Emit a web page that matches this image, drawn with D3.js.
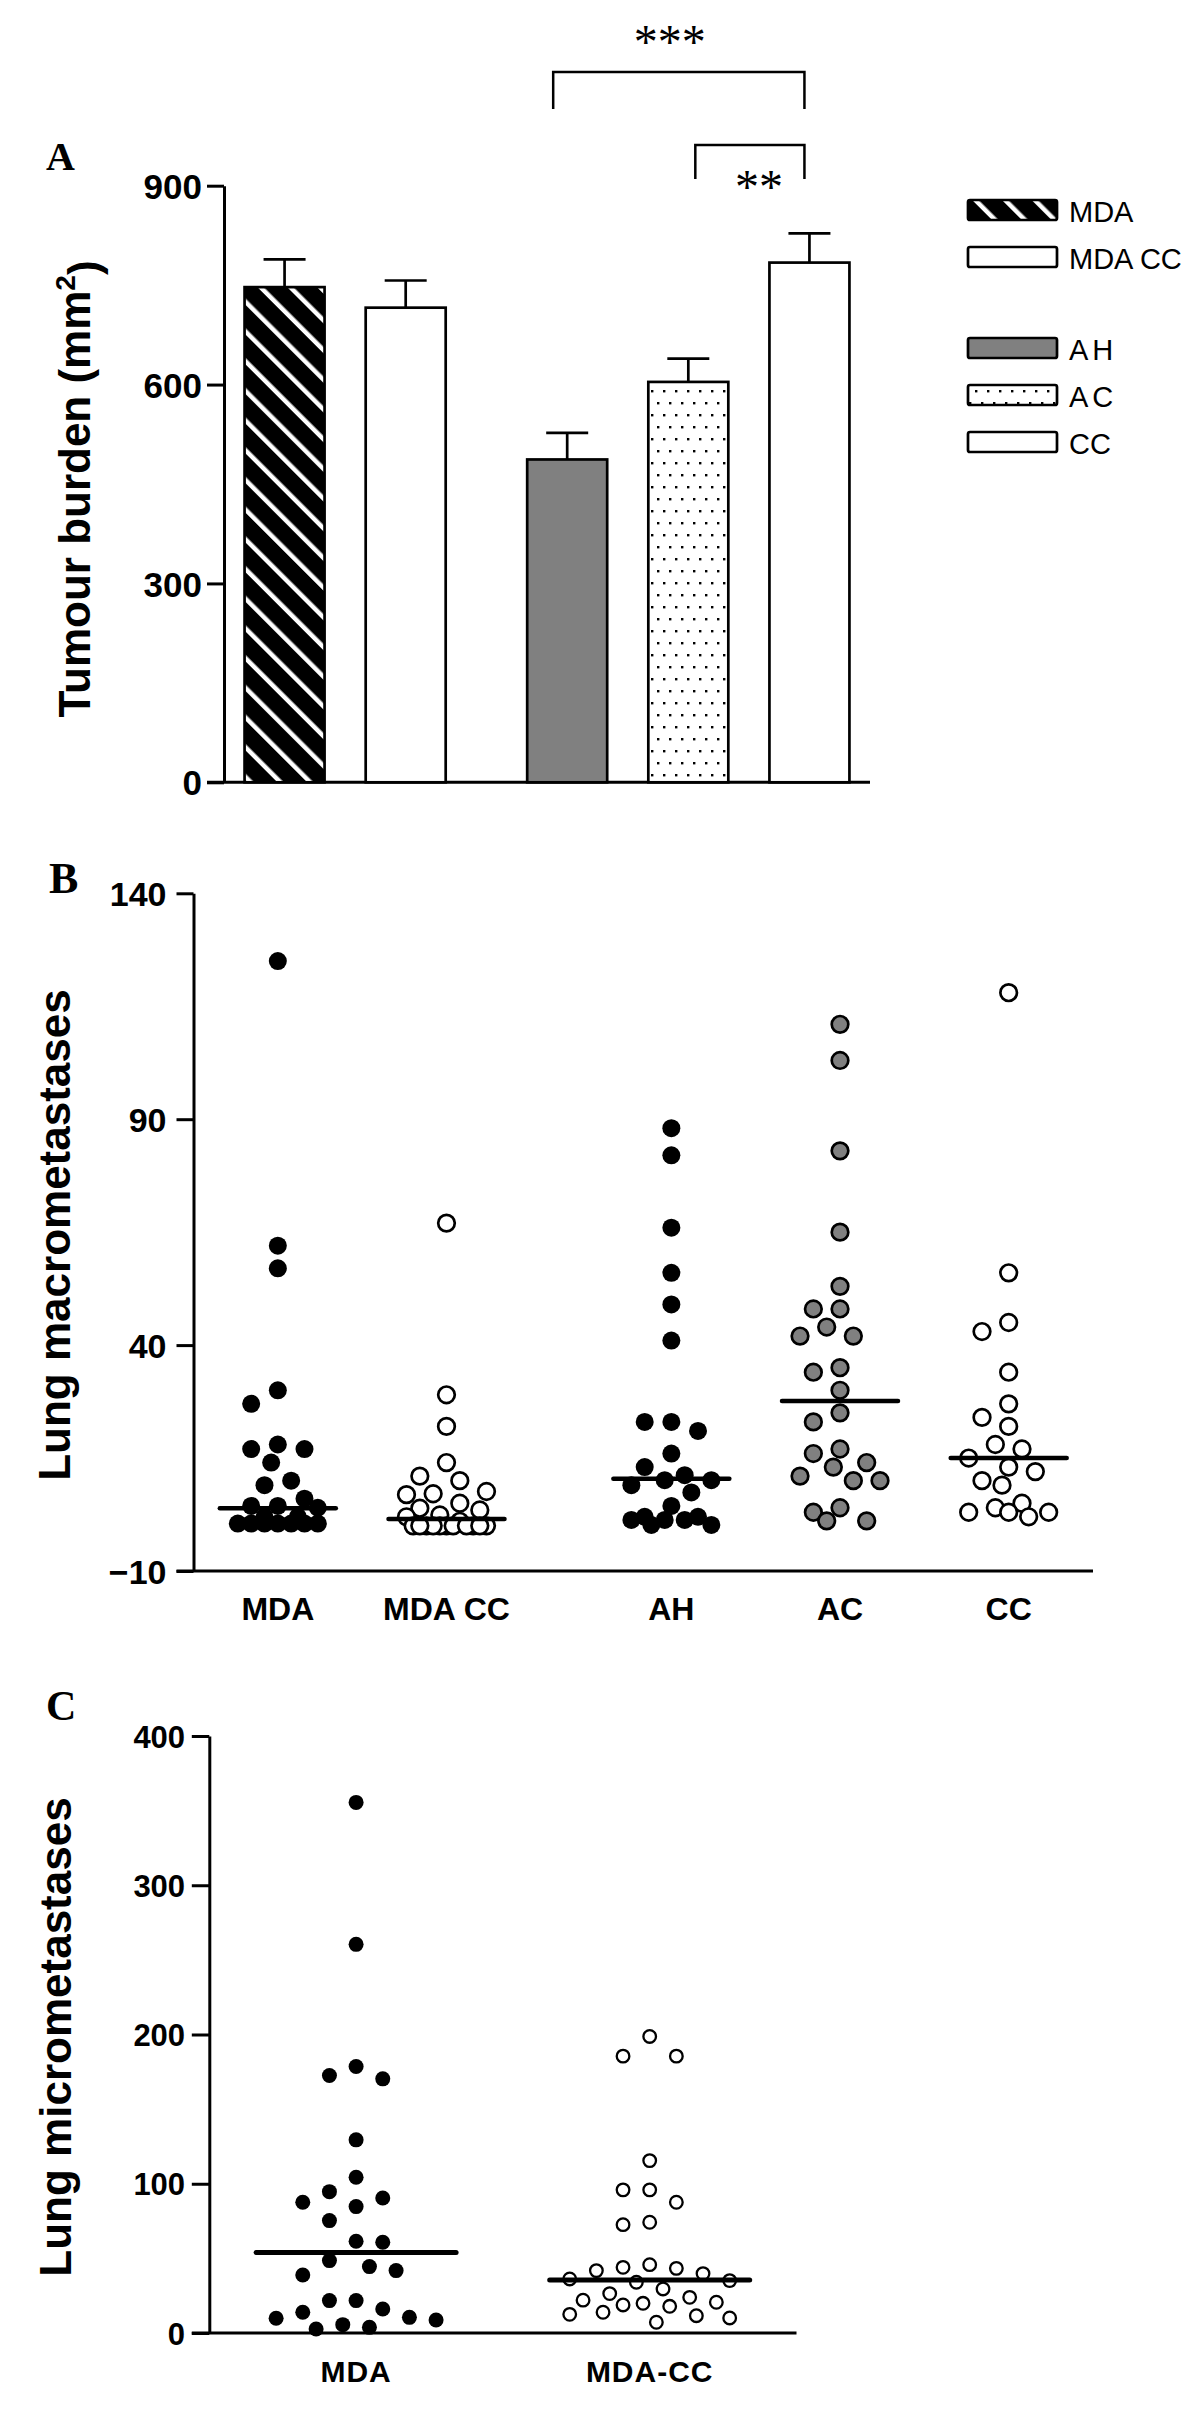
<!DOCTYPE html>
<html>
<head>
<meta charset="utf-8">
<script src="https://cdn.jsdelivr.net/npm/d3@7"></script>
<style>
  html, body { margin: 0; padding: 0; background: #fff; }
  svg { display: block; }
</style>
</head>
<body>
<script>
// ---------------- DATA ----------------
// Panel A: tumour burden (mean + SEM)
const barCategories = ["MDA", "MDA CC", "AH", "AC", "CC"];
const barMeans = [747, 716, 487, 604, 784];
const barSEM = [42, 41, 40, 35, 44];
const barTicks = [0, 300, 600, 900];
const comparisonFrom = ["AH", "AC"];
const comparisonTo = ["CC", "CC"];
const comparisonLabels = ["***", "**"];
const legendLabels = ["MDA", "MDA CC", "AH", "AC", "CC"];

// Panel B: lung macrometastases
const macroCategories = ["MDA", "MDA CC", "AH", "AC", "CC"];
const macroMDA = [125, 62, 57, 30, 27, 18, 17, 17, 14, 10, 9, 6, 4.4, 4.4, 4, 2, 2, 0.5, 0.5, 0.5, 0.5, 0.5, 0.5, 0.5];
const macroMDACC = [67, 29, 22, 14, 11, 10, 7.6, 7.1, 6.9, 5, 3.9, 3.5, 2.4, 2, 1, 0, 0, 0, 0, 0, 0, 0, 0, 0, 0, 0];
const macroAH = [88, 82, 66, 56, 49, 41, 23, 23, 21, 16, 13, 11.2, 10.1, 10.1, 9, 7.4, 4.4, 2, 2, 1.3, 1.3, 1.3, 0.2, 0.2];
const macroAC = [111, 103, 83, 65, 53, 48, 48, 44, 42, 42, 35, 34, 30, 25, 23, 17, 16, 14, 13, 11, 10, 10, 4, 3, 1.1, 1.1];
const macroCC = [118, 56, 45, 43, 34, 27, 24, 22, 18, 17, 15, 13, 12, 10, 9, 5, 4, 3, 3, 3, 2];
const macroMedians = [3.9, 1.5, 10.4, 27.6, 15.0];
const macroTicks = [-10, 40, 90, 140];

// Panel C: lung micrometastases
const microCategories = ["MDA", "MDA-CC"];
const microMDA = [355.5, 260.4, 178.6, 172.5, 170.3, 129.4, 104.4, 94.7, 90.5, 87.6, 84.7, 75.3, 61.5, 60.8, 48.5, 44.5, 41.8, 38.9, 21.7, 21.7, 16.1, 13.9, 10.5, 9.9, 8.7, 5.6, 3.8, 2.7];
const microMDACC = [198.7, 185.5, 185.5, 115.5, 95.9, 95.9, 87.6, 74.2, 72.6, 45.8, 44.0, 43.3, 41.8, 39.8, 36.2, 35.1, 34.0, 29.5, 26.4, 23.9, 22.0, 20.6, 19.9, 18.8, 17.9, 13.9, 12.5, 11.6, 10.1, 7.2];
const microMedians = [54.0, 35.5];
const microTicks = [0, 100, 200, 300, 400];

// ---------------- HELPERS ----------------
const SANS = "'Liberation Sans', Arial, sans-serif";
const SERIF = "'Liberation Serif', 'Times New Roman', serif";
const slot = i => i + (i >= 2 ? 1 / 3 : 0); // group gap between first two and last three

function swarm(vals, y, h, dmin, maxK) {
  const order = d3.range(vals.length).sort((a, b) => vals[b] - vals[a] || a - b);
  const first = [0];
  for (let k = 1; k <= maxK; k++) first.push(-k, k);
  const fine = [0];
  for (let k = 1; k <= 2 * maxK; k++) fine.push(-k, k);
  const placed = [];
  const out = new Array(vals.length);
  for (const i of order) {
    const yy = y(vals[i]);
    let chosen = null;
    for (const k of first) {
      const dx = k * h;
      if (placed.every(p => Math.hypot(p.dx - dx, p.y - yy) >= dmin)) { chosen = dx; break; }
    }
    if (chosen === null) {
      let best = -1;
      for (const k of fine) {
        const dx = k * h / 2;
        const m = d3.min(placed, p => Math.hypot(p.dx - dx, p.y - yy));
        if (m > best + 0.01) { best = m; chosen = dx; }
      }
    }
    placed.push({ dx: chosen, y: yy });
    out[i] = chosen;
  }
  return out;
}

function styleAxis(g, fontSize) {
  g.select(".domain").attr("stroke", "#000").attr("stroke-width", 3);
  g.selectAll(".tick line").attr("stroke", "#000").attr("stroke-width", 3);
  g.selectAll(".tick text")
    .attr("fill", "#000")
    .attr("dy", "0.36em")
    .style("font-family", SANS)
    .style("font-weight", "bold")
    .style("font-size", fontSize + "px");
}

function yTitle(svg, text, x, y, sup) {
  const t = svg.append("text")
    .attr("transform", `translate(${x},${y}) rotate(-90)`)
    .attr("text-anchor", "middle")
    .style("font-family", SANS).style("font-weight", "bold").style("font-size", "44px")
    .attr("fill", "#000");
  t.append("tspan").text(text);
  if (sup) {
    t.append("tspan").attr("dy", "-0.55em").style("font-size", "28px").text(sup);
    t.append("tspan").attr("dy", "0.55em").text(")");
  }
}

function panelLetter(svg, letter, x, y, size) {
  svg.append("text").attr("x", x).attr("y", y).text(letter)
    .style("font-family", SERIF).style("font-weight", "bold").style("font-size", size + "px")
    .attr("fill", "#000");
}

// ---------------- SVG ----------------
const svg = d3.select("body").append("svg").attr("width", 1200).attr("height", 2414);
svg.append("rect").attr("width", 1200).attr("height", 2414).attr("fill", "#fff");

const defs = svg.append("defs");
const hatch = defs.append("pattern").attr("id", "hatch").attr("patternUnits", "userSpaceOnUse")
  .attr("width", 21).attr("height", 21).attr("patternTransform", "rotate(-45)");
hatch.append("rect").attr("width", 21).attr("height", 21).attr("fill", "#000");
hatch.append("rect").attr("x", 0).attr("width", 4.5).attr("height", 21).attr("fill", "#fff");
const dots = defs.append("pattern").attr("id", "dots").attr("patternUnits", "userSpaceOnUse")
  .attr("width", 12).attr("height", 24);
dots.append("rect").attr("width", 12).attr("height", 24).attr("fill", "#fff");
dots.append("rect").attr("x", 3).attr("y", 6).attr("width", 2.4).attr("height", 2.4).attr("fill", "#000");
dots.append("rect").attr("x", 9).attr("y", 18).attr("width", 2.4).attr("height", 2.4).attr("fill", "#000");

const barFills = ["url(#hatch)", "#fff", "#808080", "url(#dots)", "#fff"];

// ================= PANEL A =================
const yA = d3.scaleLinear().domain([0, 900]).range([782.3, 185.7]);
const xA = d3.scaleLinear().domain([-0.5, slot(4) + 0.5]).range([224, 870]);
const bw = 80;

const gA = svg.append("g");
gA.append("g").attr("transform", "translate(224,0)")
  .call(d3.axisLeft(yA).tickValues(barTicks).tickSize(17).tickSizeOuter(0).tickPadding(5).tickFormat(d3.format("d")))
  .call(g => styleAxis(g, 35));
gA.append("line").attr("x1", 207).attr("x2", 870).attr("y1", yA(0)).attr("y2", yA(0))
  .attr("stroke", "#000").attr("stroke-width", 3);

barCategories.forEach((c, i) => {
  const cx = xA(slot(i));
  gA.append("line").attr("x1", cx).attr("x2", cx).attr("y1", yA(barMeans[i])).attr("y2", yA(barMeans[i] + barSEM[i]))
    .attr("stroke", "#000").attr("stroke-width", 2.7);
  gA.append("line").attr("x1", cx - 21).attr("x2", cx + 21)
    .attr("y1", yA(barMeans[i] + barSEM[i])).attr("y2", yA(barMeans[i] + barSEM[i]))
    .attr("stroke", "#000").attr("stroke-width", 2.7);
  gA.append("rect").attr("x", cx - bw / 2).attr("y", yA(barMeans[i]))
    .attr("width", bw).attr("height", yA(0) - yA(barMeans[i]))
    .attr("fill", barFills[i]).attr("stroke", "#000").attr("stroke-width", 2.7);
});

// significance brackets
comparisonFrom.forEach((f, j) => {
  const x1 = xA(slot(barCategories.indexOf(f))) + (j === 0 ? -14 : 7);
  const x2 = xA(slot(barCategories.indexOf(comparisonTo[j]))) - 5;
  const top = j === 0 ? 72 : 145;
  const drop = j === 0 ? 37 : 34;
  gA.append("path").attr("d", `M${x1},${top + drop}V${top}H${x2}V${top + drop}`)
    .attr("fill", "none").attr("stroke", "#000").attr("stroke-width", 2.5);
  const lx = j === 0 ? (x1 + x2) / 2 - 9 : (x1 + x2) / 2 + 9;
  const ly = j === 0 ? 58 : 203;
  gA.append("text").attr("x", lx).attr("y", ly).attr("text-anchor", "middle")
    .style("font-family", SERIF).style("font-size", "48px").attr("fill", "#000")
    .text(comparisonLabels[j]);
});

// legend
legendLabels.forEach((l, i) => {
  const top = 200 + i * 47 + (i >= 2 ? 44 : 0);
  gA.append("rect").attr("x", 968).attr("y", top).attr("width", 89).attr("height", 20).attr("rx", 2)
    .attr("fill", barFills[i]).attr("stroke", "#000").attr("stroke-width", 2.7);
  gA.append("text").attr("x", 1069).attr("y", top + 21.5).text(l)
    .style("font-family", SANS).style("font-size", "29px")
    .style("letter-spacing", l.length === 2 && i >= 2 && l !== "CC" ? "4px" : "0px")
    .attr("fill", "#000");
});

yTitle(svg, "Tumour burden (mm", 90, 489, "2");
panelLetter(svg, "A", 46, 170, 40);

// ================= PANEL B =================
const yB = d3.scaleLinear().domain([-10, 140]).range([1571, 893.3]);
const xB = d3.scaleLinear().domain([-0.5, slot(4) + 0.5]).range([193.5, 1093]);
const gB = svg.append("g");
gB.append("g").attr("transform", "translate(193.5,0)")
  .call(d3.axisLeft(yB).tickValues(macroTicks).tickSize(17).tickSizeOuter(0).tickPadding(10).tickFormat(d3.format("d")))
  .call(g => styleAxis(g, 34));
gB.append("line").attr("x1", 176.5).attr("x2", 1093).attr("y1", yB(-10)).attr("y2", yB(-10))
  .attr("stroke", "#000").attr("stroke-width", 3);

const macroSeries = [macroMDA, macroMDACC, macroAH, macroAC, macroCC];
const macroFill = ["#000", "#fff", "#000", "#808080", "#fff"];
const macroStroked = [false, true, false, true, true];
macroSeries.forEach((vals, i) => {
  const cx = xB(slot(i));
  const offs = swarm(vals, yB, 13.33, 22, 3);
  gB.append("g").selectAll("circle").data(vals).join("circle")
    .attr("cx", (d, k) => cx + offs[k]).attr("cy", d => yB(d))
    .attr("r", macroStroked[i] ? 8.3 : 9)
    .attr("fill", macroFill[i])
    .attr("stroke", macroStroked[i] ? "#000" : "none")
    .attr("stroke-width", 2.7);
  gB.append("line").attr("x1", cx - 58).attr("x2", cx + 58)
    .attr("y1", yB(macroMedians[i])).attr("y2", yB(macroMedians[i]))
    .attr("stroke", "#000").attr("stroke-width", 4.5).attr("stroke-linecap", "round");
  gB.append("text").attr("x", cx).attr("y", 1620).attr("text-anchor", "middle")
    .style("font-family", SANS).style("font-weight", "bold").style("font-size", "32px")
    .attr("fill", "#000").text(macroCategories[i]);
});

yTitle(svg, "Lung macrometastases", 70, 1235);
panelLetter(svg, "B", 49, 893, 44);

// ================= PANEL C =================
const yC = d3.scaleLinear().domain([0, 400]).range([2333, 1736]);
const xC = d3.scaleLinear().domain([-0.5, 1.5]).range([209.3, 796.5]);
const gC = svg.append("g");
gC.append("g").attr("transform", "translate(209.3,0)")
  .call(d3.axisLeft(yC).tickValues(microTicks).tickSize(17.5).tickSizeOuter(0).tickPadding(6.7).tickFormat(d3.format("d")))
  .call(g => styleAxis(g, 31));
gC.append("line").attr("x1", 191.8).attr("x2", 796.5).attr("y1", yC(0)).attr("y2", yC(0))
  .attr("stroke", "#000").attr("stroke-width", 3);

const microSeries = [microMDA, microMDACC];
microSeries.forEach((vals, i) => {
  const cx = xC(i);
  const offs = swarm(vals, yC, 13.33, 26, 6);
  gC.append("g").selectAll("circle").data(vals).join("circle")
    .attr("cx", (d, k) => cx + offs[k]).attr("cy", d => yC(d))
    .attr("r", i === 0 ? 7.5 : 6.3)
    .attr("fill", i === 0 ? "#000" : "#fff")
    .attr("stroke", i === 0 ? "none" : "#000")
    .attr("stroke-width", 2.3);
  gC.append("line").attr("x1", cx - 100).attr("x2", cx + 100)
    .attr("y1", yC(microMedians[i])).attr("y2", yC(microMedians[i]))
    .attr("stroke", "#000").attr("stroke-width", 5).attr("stroke-linecap", "round");
  gC.append("text").attr("x", cx).attr("y", 2382).attr("text-anchor", "middle")
    .style("font-family", SANS).style("font-weight", "bold").style("font-size", "30px")
    .style("letter-spacing", "1px")
    .attr("fill", "#000").text(microCategories[i]);
});

yTitle(svg, "Lung micrometastases", 71, 2037);
panelLetter(svg, "C", 46, 1720, 42);
</script>
</body>
</html>
